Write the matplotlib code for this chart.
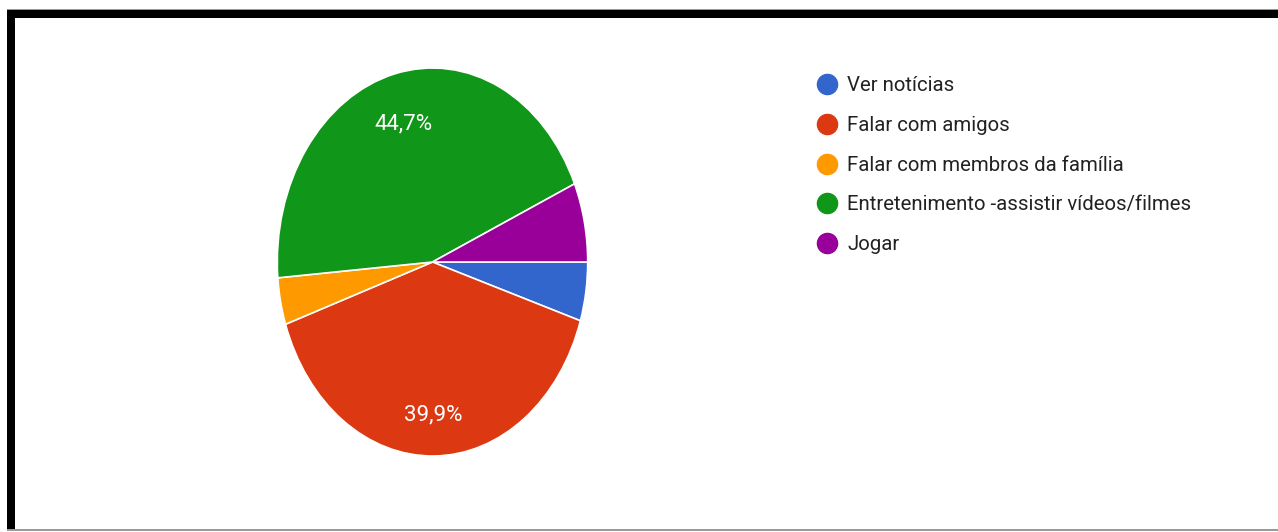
import matplotlib
matplotlib.use("Agg")
import matplotlib.pyplot as plt
from matplotlib.lines import Line2D
from matplotlib.patches import Rectangle

# survey answers, share of respondents (%)
categories = [
    "Ver notícias",
    "Falar com amigos",
    "Falar com membros da família",
    "Entretenimento -assistir vídeos/filmes",
    "Jogar",
]
shares = [4.9, 39.9, 3.9, 44.7, 6.6]
colors = ["#3366cc", "#dc3912", "#ff9900", "#109618", "#990099"]

W, H = 1278, 532
plt.rcParams["font.family"] = ["Roboto", "DejaVu Sans"]

fig = plt.figure(figsize=(W / 100, H / 100), dpi=100)
fig.patch.set_facecolor("white")

# frame drawn in pixel space
frame = fig.add_axes([0, 0, 1, 1], zorder=0)
frame.set_xlim(0, W)
frame.set_ylim(H, 0)
frame.axis("off")
frame.add_patch(Rectangle((7, 8.5), W - 7, 1.5, color="#9a9a9a", lw=0))
frame.add_patch(Rectangle((7, 10), W - 7, 7.5, color="black", lw=0))
frame.add_patch(Rectangle((7, 10), 8, 519, color="black", lw=0))
frame.add_patch(Rectangle((7, 528.5), W - 7, 2, color="#9a9a9a", lw=0))


def pct_label(p):
    return f"{p:.1f}%".replace(".", ",") if p >= 10 else ""


# pie box: centre (432.5, 262) px, radii 155 x 194 px
cx, cy, rx, ry = 432.5, 262, 155.2, 194
ax = fig.add_axes([(cx - rx) / W, (H - cy - ry) / H, 2 * rx / W, 2 * ry / H],
                  zorder=1)
wedges, _, autotexts = ax.pie(
    shares, colors=colors, startangle=0, counterclock=False,
    autopct=pct_label, pctdistance=0.76,
    wedgeprops=dict(edgecolor="white", linewidth=1.2),
    textprops=dict(color="white", fontsize=16),
)
for t in autotexts:
    x, y = t.get_position()
    t.set_position((x, y - 0.026))
ax.set_aspect("auto")
ax.set_xlim(-1, 1)
ax.set_ylim(-1, 1)

handles = [Line2D([], [], marker="o", ls="none", markersize=14.5,
                  markerfacecolor=c, markeredgecolor=c) for c in colors]
fig.legend(handles, categories, loc="upper left",
           bbox_to_anchor=(817 / W, 1 - 76 / H), frameon=False,
           fontsize=14.7, labelcolor="#222222", handlelength=1.0,
           handletextpad=0.48, labelspacing=1.02, borderaxespad=0,
           borderpad=0)

fig.savefig("out.png", dpi=100, facecolor="white")
